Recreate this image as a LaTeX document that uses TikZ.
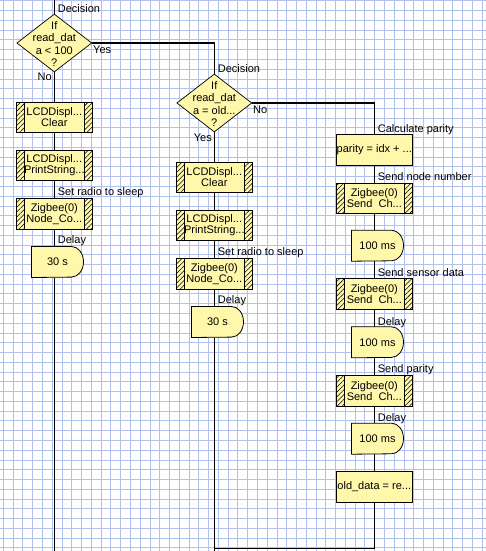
\documentclass[tikz,border=0pt]{standalone}
\usepackage{fontspec}
\setmainfont{Liberation Sans}
\usetikzlibrary{shapes.geometric,patterns.meta}
\definecolor{boxfill}{HTML}{FFF7AA}
\definecolor{gridc}{RGB}{178,194,236}
\pgfdeclarelayer{gridlayer}
\pgfdeclarelayer{linelayer}
\pgfsetlayers{gridlayer,linelayer,main}
\newcommand{\mydelay}[1]{\draw[dshape] (#1.north west) -- ([xshift=-12pt]#1.north east) arc[start angle=90,end angle=-90,x radius=12pt,y radius=15.3pt] -- (#1.south west) -- cycle;}
\tikzset{
  txt/.style={font=\fontsize{11pt}{10.9pt}\selectfont, inner sep=0pt},
  conn/.style={line width=1.3pt, black},
  lbl/.style={txt, anchor=base west},
  lblr/.style={txt, anchor=base east},
  dec/.style={diamond, draw=black, line width=0.7pt, fill=boxfill, minimum width=75pt, minimum height=58pt, inner sep=0pt},
  dectxt/.style={inner sep=0pt, align=center, font=\fontsize{11pt}{12.4pt}\selectfont},
  calcbox/.style={txt, rectangle, draw=black, line width=0.8pt, fill=boxfill, minimum width=75.4pt, minimum height=30.5pt, align=center},
  subbox/.style={calcbox, path picture={
    \fill[pattern={Lines[angle=45,distance=3.4pt,line width=0.55pt]}, pattern color=black]
      (path picture bounding box.south west) rectangle ([xshift=7.5pt]path picture bounding box.north west);
    \fill[pattern={Lines[angle=45,distance=3.4pt,line width=0.55pt]}, pattern color=black]
      ([xshift=-7.5pt]path picture bounding box.south east) rectangle (path picture bounding box.north east);
    \draw[line width=0.8pt] ([xshift=7.5pt]path picture bounding box.south west) -- ([xshift=7.5pt]path picture bounding box.north west);
    \draw[line width=0.8pt] ([xshift=-7.5pt]path picture bounding box.south east) -- ([xshift=-7.5pt]path picture bounding box.north east);
  }},
  delaytxt/.style={txt, minimum width=51.6pt, minimum height=30.6pt},
  dshape/.style={draw=black, line width=0.8pt, fill=boxfill},
}
\begin{document}
\begin{tikzpicture}[x=1pt,y=-1pt]
\useasboundingbox (0,0) rectangle (486,551);
\begin{pgfonlayer}{gridlayer}
  \fill[white] (0,0) rectangle (486,551);
  \foreach \i in {0,...,49} \draw[gridc,line width=0.7pt] ({3.3+9.77*\i},0) -- ({3.3+9.77*\i},551);
  \foreach \j in {0,...,56} \draw[gridc,line width=0.7pt] (0,{0.7+9.77*\j}) -- (486,{0.7+9.77*\j});
\end{pgfonlayer}

% ---------- left column ----------
\node[dec] (dec1) at (54.3,43) {};
\node[dectxt] (dec1t) at (54.3,44.2) {If\\read\_dat\\a < 100\\?};
\node[subbox] (lcd1) at (54.3,117.3) {LCDDispl...\\Clear};
\node[subbox] (lcd2) at (54.3,165.3) {LCDDispl...\\PrintString...};
\node[subbox] (zig1) at (54.3,213.7) {Zigbee(0)\\Node\_Co...};
\node[delaytxt] (del1) at (57.5,262) {30 s};
\node[lbl] (l1a) at (57.7,12.7) {Decision};
\node[lbl] (l1b) at (93,54) {Yes};
\node[lblr] (l1c) at (52,81) {No};
\node[lbl] (l1d) at (57.7,195.5) {Set radio to sleep};
\node[lbl] (l1e) at (57.7,243.7) {Delay};

% ---------- middle column ----------
\node[dec] (dec2) at (214.3,103) {};
\node[dectxt] (dec2t) at (214.3,104.2) {If\\read\_dat\\a = old...\\?};
\node[subbox] (lcd3) at (214.3,177.3) {LCDDispl...\\Clear};
\node[subbox] (lcd4) at (214.3,225.3) {LCDDispl...\\PrintString...};
\node[subbox] (zig2) at (214.3,273.7) {Zigbee(0)\\Node\_Co...};
\node[delaytxt] (del2) at (217.5,322) {30 s};
\node[lbl] (l2a) at (217.7,72.7) {Decision};
\node[lbl] (l2b) at (253,113.3) {No};
\node[lblr] (l2c) at (212,141) {Yes};
\node[lbl] (l2d) at (217.7,255.5) {Set radio to sleep};
\node[lbl] (l2e) at (217.7,303.7) {Delay};

% ---------- right column ----------
\node[calcbox] (calc) at (374.3,149.7) {parity = idx + ...};
\node[subbox] (zs1) at (374.3,198.3) {Zigbee(0)\\Send\ \ Ch...};
\node[delaytxt] (dm1) at (377.5,245.7) {100 ms};
\node[subbox] (zs2) at (374.3,294) {Zigbee(0)\\Send\ \ Ch...};
\node[delaytxt] (dm2) at (377.5,342.3) {100 ms};
\node[subbox] (zs3) at (374.3,390.7) {Zigbee(0)\\Send\ \ Ch...};
\node[delaytxt] (dm3) at (377.5,438.7) {100 ms};
\node[calcbox] (old) at (374.3,486.7) {old\_data = re...};
\node[lbl] (l3a) at (377.7,132.7) {Calculate parity};
\node[lbl] (l3b) at (377.7,180.7) {Send node number};
\node[lbl] (l3c) at (377.7,276.7) {Send sensor data};
\node[lbl] (l3d) at (377.7,325) {Delay};
\node[lbl] (l3e) at (377.7,372.7) {Send parity};
\node[lbl] (l3f) at (377.7,421) {Delay};

\coordinate (top1) at (54.3,0);
\coordinate (bot1) at (54.3,551);
\coordinate (bot2) at (214.3,551);
\coordinate (join) at (214.3,548.8);

\begin{pgfonlayer}{linelayer}
  % left
  \draw[conn] (top1) -- (dec1.north);
  \draw[conn] (dec1.south) -- (lcd1.north);
  \draw[conn] (lcd1.south) -- (lcd2.north);
  \draw[conn] (lcd2.south) -- (zig1.north);
  \draw[conn] (zig1.south) -- (zig1.south |- del1.north);
  \draw[conn] (zig1.south |- del1.south) -- (bot1);
  % yes branch
  \draw[conn] (dec1.east) -| (dec2.north);
  % middle
  \draw[conn] (dec2.south) -- (lcd3.north);
  \draw[conn] (lcd3.south) -- (lcd4.north);
  \draw[conn] (lcd4.south) -- (zig2.north);
  \draw[conn] (zig2.south) -- (zig2.south |- del2.north);
  \draw[conn] (zig2.south |- del2.south) -- (bot2);
  % no branch
  \draw[conn] (dec2.east) -| (calc.north);
  % right
  \draw[conn] (calc.south) -- (zs1.north);
  \draw[conn] (zs1.south) -- (zs1.south |- dm1.north);
  \draw[conn] (zs1.south |- dm1.south) -- (zs2.north);
  \draw[conn] (zs2.south) -- (zs2.south |- dm2.north);
  \draw[conn] (zs2.south |- dm2.south) -- (zs3.north);
  \draw[conn] (zs3.south) -- (zs3.south |- dm3.north);
  \draw[conn] (zs3.south |- dm3.south) -- (old.north);
  \draw[conn] (old.south) |- (join);
  % delay shapes
  \mydelay{del1}
  \mydelay{del2}
  \mydelay{dm1}
  \mydelay{dm2}
  \mydelay{dm3}
\end{pgfonlayer}
\end{tikzpicture}
\end{document}
